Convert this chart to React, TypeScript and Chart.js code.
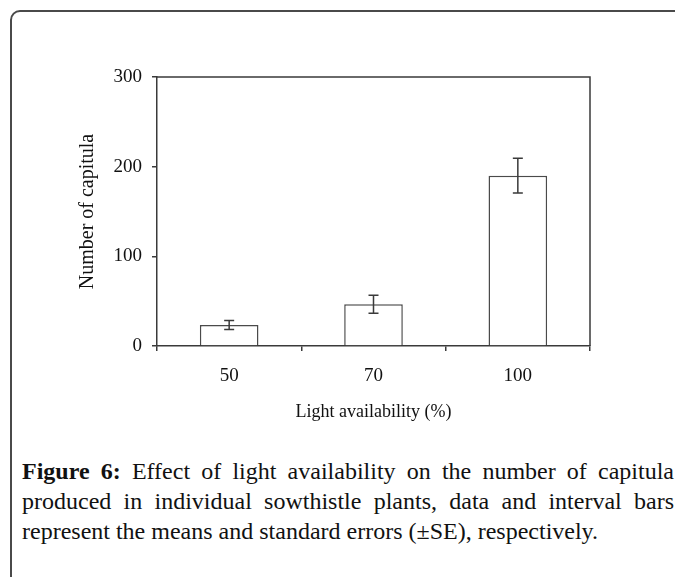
import React, { useEffect, useRef } from "react";
import { Chart, registerables } from "chart.js";

Chart.register(...registerables);

const categories = ["50", "70", "100"];
const means = [23.5, 46.5, 190];
const standardErrors = [5, 10, 19.5];
const yTicks = [0, 100, 200, 300];
const xTitle = "Light availability (%)";
const yTitle = "Number of capitula";

const AXIS = "#3a3a3a";
const SERIF = "'Liberation Serif', 'Times New Roman', serif";
const CAPTION_SERIF = "'Liberation Serif', 'Times New Roman', serif";

export default function App() {
  const ref = useRef<HTMLCanvasElement>(null);

  useEffect(() => {
    if (!ref.current) return;

    const errorBars = {
      id: "errorBars",
      afterDatasetsDraw(chart: any) {
        const ctx = chart.ctx;
        const meta = chart.getDatasetMeta(0);
        const y = chart.scales.y;
        ctx.save();
        ctx.strokeStyle = AXIS;
        ctx.lineWidth = 1.5;
        meta.data.forEach((bar: any, i: number) => {
          const x = bar.x;
          const top = y.getPixelForValue(means[i] + standardErrors[i]);
          const bot = y.getPixelForValue(means[i] - standardErrors[i]);
          const cap = 5;
          ctx.beginPath();
          ctx.moveTo(x, top);
          ctx.lineTo(x, bot);
          ctx.moveTo(x - cap, top);
          ctx.lineTo(x + cap, top);
          ctx.moveTo(x - cap, bot);
          ctx.lineTo(x + cap, bot);
          ctx.stroke();
        });
        ctx.restore();
      },
    };

    const frameBox = {
      id: "frameBox",
      afterDraw(chart: any) {
        const { left, top, right, bottom } = chart.chartArea;
        const ctx = chart.ctx;
        ctx.save();
        ctx.strokeStyle = AXIS;
        ctx.lineWidth = 1.5;
        ctx.beginPath();
        ctx.moveTo(left, top);
        ctx.lineTo(right, top);
        ctx.lineTo(right, bottom);
        ctx.stroke();
        ctx.restore();
      },
    };

    const chart = new Chart(ref.current, {
      type: "bar",
      data: {
        labels: categories,
        datasets: [
          {
            data: means,
            backgroundColor: "#ffffff",
            borderColor: "#4a4a4a",
            borderWidth: 1.5,
            categoryPercentage: 1,
            barPercentage: 0.406,
          },
        ],
      },
      options: {
        responsive: false,
        animation: false,
        devicePixelRatio: 1,
        layout: { padding: { left: 0, top: 77, right: 85, bottom: 0 } },
        plugins: {
          legend: { display: false },
          tooltip: { enabled: false },
        },
        scales: {
          x: {
            afterFit: (s: any) => {
              s.height = 440 - 346;
            },
            grid: {
              offset: true,
              drawOnChartArea: false,
              drawTicks: true,
              tickLength: 5,
              color: AXIS,
              lineWidth: 1.5,
            },
            border: { display: true, color: AXIS, width: 1.5 },
            ticks: {
              color: "#111",
              padding: 14,
              font: { family: SERIF, size: 19 },
            },
            title: {
              display: true,
              text: xTitle,
              color: "#111",
              font: { family: SERIF, size: 18 },
              padding: { top: 0, bottom: 17 },
            },
          },
          y: {
            min: 0,
            max: 300,
            afterFit: (s: any) => {
              s.width = 157;
            },
            afterBuildTicks: (s: any) => {
              s.ticks = yTicks.map((v) => ({ value: v }));
            },
            grid: {
              drawOnChartArea: false,
              drawTicks: true,
              tickLength: 5,
              color: AXIS,
              lineWidth: 1.5,
            },
            border: { display: true, color: AXIS, width: 1.5 },
            ticks: {
              color: "#111",
              padding: 10,
              font: { family: SERIF, size: 19 },
            },
            title: {
              display: true,
              text: yTitle,
              color: "#111",
              font: { family: SERIF, size: 20 },
              padding: { top: 76, bottom: 0 },
            },
          },
        },
      },
      plugins: [errorBars, frameBox],
    });

    return () => chart.destroy();
  }, []);

  const captionFont: React.CSSProperties = {
    fontFamily: CAPTION_SERIF,
    fontSize: 24,
    lineHeight: "30px",
    color: "#111",
  };

  return (
    <div
      style={{
        position: "fixed",
        left: 0,
        top: 0,
        width: 675,
        height: 577,
        overflow: "hidden",
        background: "#fff",
      }}
    >
      <div
        style={{
          position: "absolute",
          left: 10,
          top: 10,
          width: 720,
          height: 620,
          border: "2px solid #4a4a4a",
          borderRadius: 10,
          boxSizing: "border-box",
        }}
      />
      <canvas
        ref={ref}
        width={675}
        height={440}
        style={{ position: "absolute", left: 0, top: 0, width: 675, height: 440 }}
      />
      <div
        style={{
          position: "absolute",
          left: 22,
          top: 456,
          width: 652,
          ...captionFont,
        }}
      >
        <div style={{ textAlign: "justify", textAlignLast: "justify" }}>
          <b>Figure 6:</b> Effect of light availability on the number of capitula
        </div>
        <div style={{ textAlign: "justify", textAlignLast: "justify" }}>
          produced in individual sowthistle plants, data and interval bars
        </div>
        <div style={{ textAlign: "left" }}>
          represent the means and standard errors (±SE), respectively.
        </div>
      </div>
    </div>
  );
}
